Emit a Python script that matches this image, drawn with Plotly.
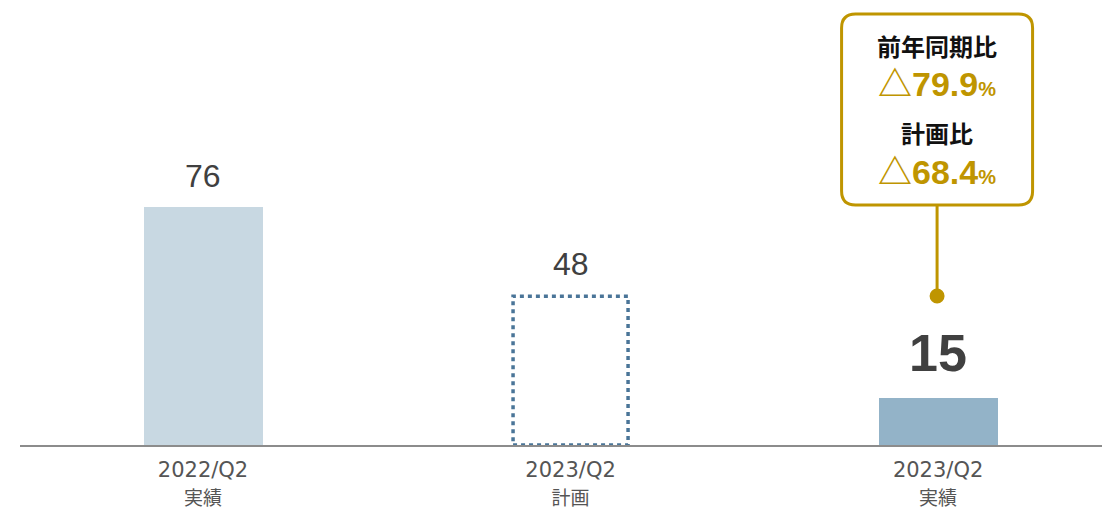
import plotly.graph_objects as go

# ---- data ----
periods = ["2022/Q2", "2023/Q2", "2023/Q2"]
kinds = ["実績", "計画", "実績"]
values = [76, 48, 15]
yoy_label = "前年同期比"
yoy_change = "△79.9"
plan_label = "計画比"
plan_change = "△68.4"

# ---- layout geometry ----
W, H = 1102, 510
ML, MR, MT, MB = 20, 0, 0, 65
PW, PH = W - ML - MR, H - MT - MB
x_range = [-0.498, 2.446]
y_range = [0, 142.1]
ux = PW / (x_range[1] - x_range[0])
uy = PH / (y_range[1] - y_range[0])
def dx(px):
    return px / ux
def dy(px):
    return px / uy

bar_w = dx(119)
GOLD = "#bf9500"
xs = list(range(len(values)))

fig = go.Figure()

actual_idx = [i for i, k in enumerate(kinds) if k == "実績"]
plan_idx = [i for i, k in enumerate(kinds) if k != "実績"]
colors = ["#c8d8e2", "#93b3c8"]
fig.add_trace(go.Bar(
    x=[xs[i] for i in actual_idx], y=[values[i] for i in actual_idx],
    width=bar_w, marker=dict(color=colors, line=dict(width=0)),
    hoverinfo="skip", showlegend=False))
fig.add_trace(go.Bar(
    x=[xs[i] for i in plan_idx], y=[values[i] for i in plan_idx],
    width=bar_w, marker=dict(color="rgba(0,0,0,0)", line=dict(width=0)),
    hoverinfo="skip", showlegend=False))

shapes = []
for i in plan_idx:
    shapes.append(dict(type="rect", xref="x", yref="y",
                       x0=xs[i] - bar_w / 2 + dx(2), x1=xs[i] + bar_w / 2 - dx(2),
                       y0=0, y1=values[i] - dy(1.5),
                       line=dict(color="#4a7598", width=3.5, dash="4px,4px"),
                       fillcolor="rgba(0,0,0,0)", layer="above"))

annotations = []
last = len(values) - 1
for i, v in enumerate(values):
    big = i == last
    annotations.append(dict(
        x=xs[i], y=v, xref="x", yref="y", text=str(v), showarrow=False,
        yanchor="middle", yshift=45 if big else 31,
        font=dict(family="Liberation Sans, Arial", size=52 if big else 32,
                  color="#404040", weight="bold" if big else "normal")))

# callout
cx = xs[last] - dx(1)
dot_y = values[last] + dy(102)
box_bottom = dot_y + dy(91)
box_top = box_bottom + dy(191)
hw = dx(95.5)
rx, ry = dx(14), dy(14)
x0, x1 = cx - hw, cx + hw
y0, y1 = box_bottom, box_top
path = (f"M {x0+rx},{y1} L {x1-rx},{y1} Q {x1},{y1} {x1},{y1-ry} "
        f"L {x1},{y0+ry} Q {x1},{y0} {x1-rx},{y0} L {x0+rx},{y0} "
        f"Q {x0},{y0} {x0},{y0+ry} L {x0},{y1-ry} Q {x0},{y1} {x0+rx},{y1} Z")
shapes.append(dict(type="path", xref="x", yref="y", path=path,
                   line=dict(color=GOLD, width=3), fillcolor="white", layer="above"))
shapes.append(dict(type="line", xref="x", yref="y", x0=cx, x1=cx, y0=dot_y, y1=box_bottom,
                   line=dict(color=GOLD, width=3), layer="above"))
shapes.append(dict(type="circle", xref="x", yref="y",
                   x0=cx - dx(7.5), x1=cx + dx(7.5), y0=dot_y - dy(7.5), y1=dot_y + dy(7.5),
                   line=dict(width=0), fillcolor=GOLD, layer="above"))

CJK = "Noto Sans CJK JP"
def line_ann(text, offset_px, size, color, family):
    return dict(x=cx, y=box_top, xref="x", yref="y", text=text, showarrow=False,
                yanchor="middle", yshift=-offset_px,
                font=dict(family=family, size=size, color=color, weight="bold"))

pct = "<span style='font-size:20px'>%</span>"
annotations.append(line_ann(yoy_label, 31, 24, "#111111", CJK))
annotations.append(line_ann(yoy_change + pct, 70, 34, GOLD, "Liberation Sans, " + CJK))
annotations.append(line_ann(plan_label, 118, 24, "#111111", CJK))
annotations.append(line_ann(plan_change + pct, 158, 34, GOLD, "Liberation Sans, " + CJK))

ticktext = [f"{p}<br><span style='font-size:19px'>{k}</span>" for p, k in zip(periods, kinds)]

fig.update_layout(
    width=W, height=H, margin=dict(l=ML, r=MR, t=MT, b=MB),
    paper_bgcolor="white", plot_bgcolor="white",
    shapes=shapes, annotations=annotations, bargap=0, barmode="overlay",
    xaxis=dict(range=x_range, tickvals=xs, ticktext=ticktext, showgrid=False,
               zeroline=False, showline=True, linecolor="#8c8c8c", linewidth=2,
               ticks="", ticklabelstandoff=5,
               tickfont=dict(family="DejaVu Sans, " + CJK, size=21, color="#555555"),
               fixedrange=True),
    yaxis=dict(range=y_range, visible=False, showgrid=False, zeroline=False, fixedrange=True),
    showlegend=False,
)

fig.write_html("out.html", config={"displayModeBar": False})
